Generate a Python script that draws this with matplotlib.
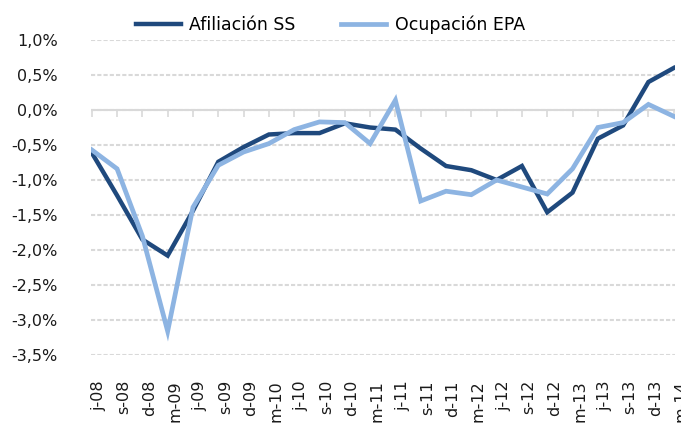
import matplotlib
matplotlib.use("Agg")
import matplotlib.pyplot as plt
import matplotlib.transforms as mtransforms
from matplotlib.ticker import FuncFormatter

quarters = ["j-08", "s-08", "d-08", "m-09", "j-09", "s-09", "d-09", "m-10",
            "j-10", "s-10", "d-10", "m-11", "j-11", "s-11", "d-11", "m-12",
            "j-12", "s-12", "d-12", "m-13", "j-13", "s-13", "d-13", "m-14"]
afiliacion_ss = [-0.61, -1.22, -1.85, -2.08, -1.44, -0.74, -0.53, -0.35,
                 -0.33, -0.33, -0.19, -0.25, -0.28, -0.55, -0.80, -0.86,
                 -1.00, -0.80, -1.46, -1.18, -0.41, -0.22, 0.40, 0.60]
ocupacion_epa = [-0.57, -0.84, -1.80, -3.16, -1.39, -0.79, -0.60, -0.48,
                 -0.28, -0.17, -0.18, -0.48, 0.14, -1.30, -1.16, -1.21,
                 -1.00, -1.10, -1.20, -0.84, -0.25, -0.18, 0.08, -0.09]
y_ticks = [1.0, 0.5, 0.0, -0.5, -1.0, -1.5, -2.0, -2.5, -3.0, -3.5]

DARK = "#1F497D"
LIGHT = "#8DB4E2"
GRID = "#D9D9D9"

plt.rcParams["font.family"] = ["DejaVu Sans"]

fig = plt.figure(figsize=(6.81, 4.23), dpi=100)
ax = fig.add_axes([91 / 681, 1 - 355 / 423, 584 / 681, 315 / 423])

x = list(range(len(quarters)))
ax.plot(x, afiliacion_ss, color=DARK, linewidth=3.2, label="Afiliación SS",
        solid_joinstyle="miter", zorder=3)
ax.plot(x, ocupacion_epa, color=LIGHT, linewidth=3.4, label="Ocupación EPA",
        solid_joinstyle="miter", zorder=4)

ax.set_xlim(-0.03, len(quarters) - 1 + 0.05)
ax.set_ylim(min(y_ticks), max(y_ticks))

for s in ax.spines.values():
    s.set_visible(False)

# dashed horizontal gridlines
ax.set_yticks(y_ticks)
ax.yaxis.grid(True, color=GRID, linewidth=1.5, linestyle=(0, (2.0, 1.0)))
ax.set_axisbelow(True)
ax.tick_params(axis="y", length=0, pad=24, labelsize=11.5, colors="#1a1a1a")
ax.yaxis.set_major_formatter(FuncFormatter(lambda v, p: f"{v:.1f}%".replace(".", ",")))

# solid zero line with tick marks pointing down
ax.axhline(0, color=GRID, linewidth=1.5, zorder=2)
ymin, ymax = ax.get_ylim()
zero_axis = ax.secondary_xaxis((0 - ymin) / (ymax - ymin))
zero_axis.set_xticks(x, labels=[""] * len(x))
zero_axis.xaxis.set_ticks_position("bottom")
zero_axis.tick_params(direction="out", length=5, width=1.2, color=GRID,
                      labelbottom=False, labeltop=False)
for s in zero_axis.spines.values():
    s.set_visible(False)

# category labels at the bottom
ax.set_xticks(x, quarters, rotation=90)
ax.tick_params(axis="x", length=0, pad=18, labelsize=11.5, colors="#1a1a1a")
shift = mtransforms.ScaledTranslation(7 / 100, 0, fig.dpi_scale_trans)
for lbl in ax.get_xticklabels():
    lbl.set_transform(lbl.get_transform() + shift)

fig.legend(loc="upper center", bbox_to_anchor=(0.485, 1.0), ncol=2, frameon=False,
           fontsize=12.5, handlelength=2.6, handletextpad=0.5, columnspacing=2.6)

fig.savefig("out.png", dpi=100)
